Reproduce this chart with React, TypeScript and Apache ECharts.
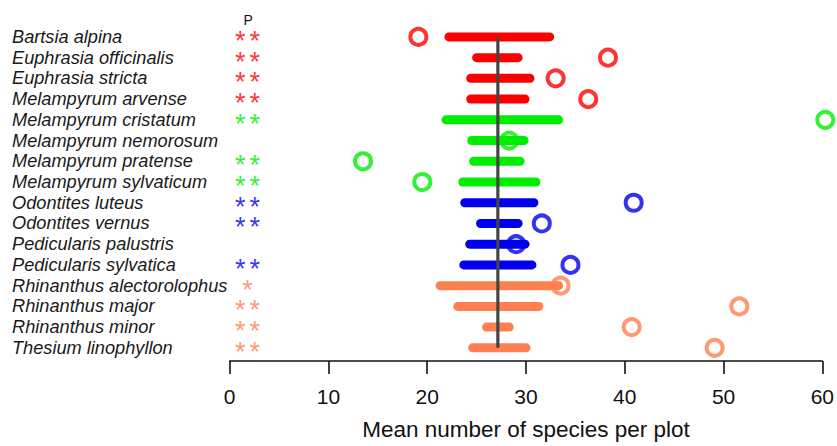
import React, { useEffect, useRef } from "react";
import * as echarts from "echarts";

const species = [
  "Bartsia alpina",
  "Euphrasia officinalis",
  "Euphrasia stricta",
  "Melampyrum arvense",
  "Melampyrum cristatum",
  "Melampyrum nemorosum",
  "Melampyrum pratense",
  "Melampyrum sylvaticum",
  "Odontites luteus",
  "Odontites vernus",
  "Pedicularis palustris",
  "Pedicularis sylvatica",
  "Rhinanthus alectorolophus",
  "Rhinanthus major",
  "Rhinanthus minor",
  "Thesium linophyllon",
];
const rangeLow = [22.2, 25.0, 24.4, 24.4, 21.9, 24.5, 24.7, 23.6, 23.8, 25.4, 24.3, 23.7, 21.3, 23.1, 26.0, 24.6];
const rangeHigh = [32.4, 29.2, 30.4, 29.9, 33.3, 29.8, 29.4, 31.0, 30.8, 29.2, 29.9, 30.6, 33.3, 31.3, 28.3, 30.0];
const observed = [19.1, 38.3, 33.0, 36.3, 60.3, 28.3, 13.5, 19.5, 40.9, 31.6, 29.0, 34.5, 33.5, 51.6, 40.7, 49.1];
const significance = ["**", "**", "**", "**", "**", "", "**", "**", "**", "**", "", "**", "*", "**", "**", "**"];
const groupIndex = [0, 0, 0, 0, 1, 1, 1, 1, 2, 2, 2, 2, 3, 3, 3, 3];
const groupColors = ["#ff0000", "#00ee00", "#0000ee", "#ff7f50"];
const overallMean = 27.15;
const pColumnX = 1.8;
const xTicks = { min: 0, max: 60, interval: 10 };

const FONT = "'Liberation Sans', Arial, Helvetica, sans-serif";

export default function App() {
  const ref = useRef<HTMLDivElement>(null);
  useEffect(() => {
    if (!ref.current) return;
    const chart = echarts.init(ref.current, null, { renderer: "svg" });
    const rowTop = 26.54;
    const rowBottom = 361.2;
    chart.setOption({
      animation: false,
      backgroundColor: "#ffffff",
      grid: { left: 229.7, right: 12, top: rowTop, bottom: 446 - rowBottom, containLabel: false },
      xAxis: {
        type: "value",
        min: xTicks.min,
        max: xTicks.max,
        interval: xTicks.interval,
        offset: 2.8,
        axisLine: { show: true, lineStyle: { color: "#111", width: 1.6 } },
        axisTick: { show: true, length: 13, lineStyle: { color: "#111", width: 1.6 } },
        splitLine: { show: false },
        axisLabel: { fontSize: 21, color: "#111", margin: 25, fontFamily: FONT },
        name: "Mean number of species per plot",
        nameLocation: "middle",
        nameGap: 57,
        nameTextStyle: { fontSize: 22.5, color: "#111", fontFamily: FONT },
      },
      yAxis: {
        type: "category",
        data: species,
        inverse: true,
        axisLine: { show: false },
        axisTick: { show: false },
        splitLine: { show: false },
        axisLabel: {
          interval: 0,
          hideOverlap: false,
          align: "left",
          margin: 217.7,
          fontSize: 18.2,
          fontStyle: "italic",
          color: "#1a1a1a",
          fontFamily: FONT,
        },
      },
      graphic: [
        {
          type: "text",
          left: 243.5,
          top: 13,
          style: { text: "P", fontSize: 14, fill: "#111", fontFamily: FONT },
        },
      ],
      series: [
        {
          type: "custom",
          z: 2,
          encode: { x: [0, 1], y: 2 },
          data: species.map((_, i) => [rangeLow[i], rangeHigh[i], i, groupIndex[i]]),
          renderItem: (params: any, api: any) => {
            const a = api.coord([api.value(0), api.value(2)]);
            const b = api.coord([api.value(1), api.value(2)]);
            return {
              type: "line",
              shape: { x1: a[0], y1: a[1], x2: b[0], y2: b[1] },
              style: { stroke: groupColors[api.value(3)], lineWidth: 9, lineCap: "round" },
            };
          },
        },
        {
          type: "line",
          z: 3,
          symbol: "none",
          data: [
            [overallMean, 0],
            [overallMean, species.length - 1],
          ],
          lineStyle: { color: "#444", width: 3.2 },
        },
        {
          type: "scatter",
          z: 4,
          clip: false,
          symbol: "circle",
          symbolSize: 16,
          data: species.map((_, i) => ({
            value: [observed[i], i],
            itemStyle: { color: "rgba(0,0,0,0)", borderColor: groupColors[groupIndex[i]], borderWidth: 4 },
          })),
        },
        {
          type: "scatter",
          z: 5,
          symbolSize: 0,
          data: species.map((_, i) => ({
            value: [pColumnX, i],
            label: {
              show: true,
              position: "inside",
              formatter: significance[i]
                .split("")
                .map((s) => "{s|" + s + "}")
                .join(""),
              rich: {
                s: {
                  width: 14.5,
                  align: "center",
                  color: groupColors[groupIndex[i]],
                  fontSize: 27,
                  fontFamily: FONT,
                },
              },
              offset: [0, 4],
            },
          })),
        },
      ],
    });
    return () => chart.dispose();
  }, []);
  return <div ref={ref} style={{ position: "fixed", left: 0, top: 0, width: 837, height: 446 }} />;
}
